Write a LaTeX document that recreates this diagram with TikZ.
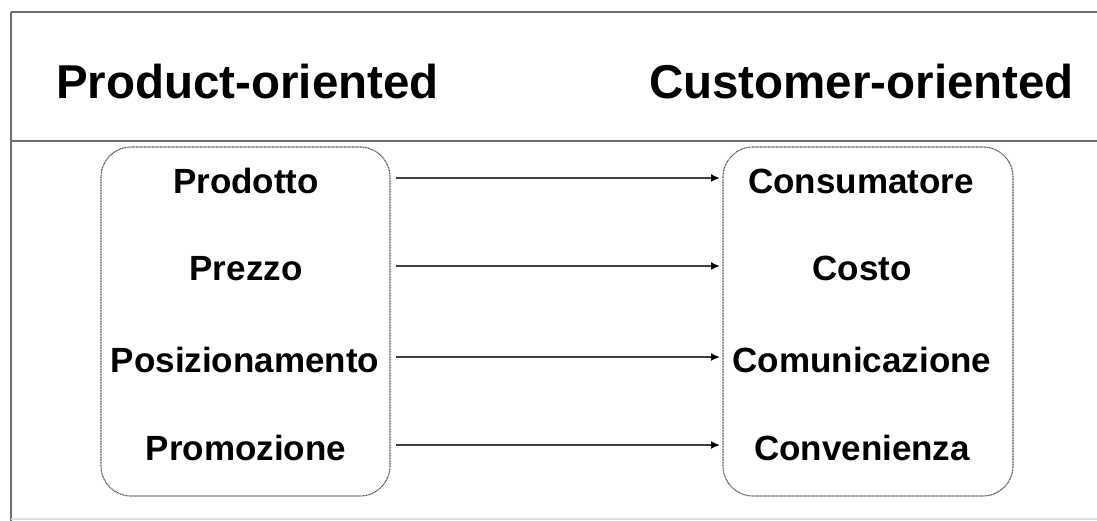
\documentclass[tikz,border=0pt]{standalone}
\usepackage{fontspec}
\setmainfont{Liberation Sans}
\usetikzlibrary{arrows.meta}
\definecolor{frame}{HTML}{6E6E6E}
\definecolor{arrowc}{HTML}{404040}
\definecolor{dotc}{HTML}{505050}
\tikzset{
  frameline/.style={draw=frame, line width=2.4pt},
  groupbox/.style={draw=dotc, line width=1.1pt, dash pattern=on 1pt off 0.6pt, rounded corners=30pt},
  header/.style={font=\bfseries\fontsize{47.5}{55}\selectfont, inner sep=0pt, anchor=center},
  item/.style={font=\bfseries\fontsize{35}{40}\selectfont, inner sep=0pt, anchor=center},
  conn/.style={draw=arrowc, line width=2pt, -{Latex[length=9pt,width=8pt,color=black]}}
}
\begin{document}
\begin{tikzpicture}[x=1pt,y=-1pt]
\useasboundingbox (0,0) rectangle (1097,521);
% frame
\draw[frameline] (11,12) -- (1097,12);
\draw[frameline] (11,141) -- (1097,141);
\draw[frameline] (11,12) -- (11,521);
\draw[draw=black!12, line width=1.5pt] (11,519) -- (1097,519);
% headers
\node[header] (hl) at (247.5,82) {Product-oriented};
\node[header] (hr) at (861.5,82) {Customer-oriented};
% boxes
\draw[groupbox] (101,147) rectangle (390,496);
\draw[groupbox] (723,147) rectangle (1013,496);
% left items
\node[item] (l1) at (246,181) {Prodotto};
\node[item] (l2) at (246,269) {Prezzo};
\node[item] (l3) at (245,360) {Posizionamento};
\node[item] (l4) at (246,448) {Promozione};
% right items
\node[item] (r1) at (861,181) {Consumatore};
\node[item] (r2) at (862,268) {Costo};
\node[item] (r3) at (862,360) {Comunicazione};
\node[item] (r4) at (862,448) {Convenienza};
% arrow endpoints
\coordinate (s1) at (396,178); \coordinate (e1) at (720,178);
\coordinate (s2) at (396,266); \coordinate (e2) at (720,266);
\coordinate (s3) at (396,357); \coordinate (e3) at (720,357);
\coordinate (s4) at (396,445); \coordinate (e4) at (720,445);
\draw[conn] (s1) -- (e1);
\draw[conn] (s2) -- (e2);
\draw[conn] (s3) -- (e3);
\draw[conn] (s4) -- (e4);
\end{tikzpicture}
\end{document}
